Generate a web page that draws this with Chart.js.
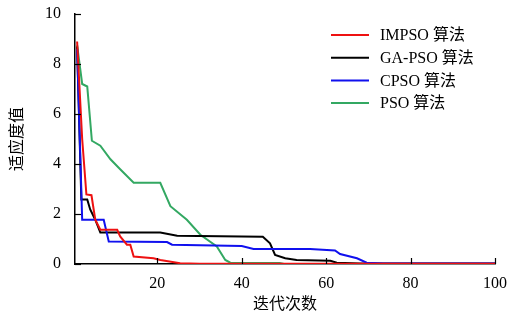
<!DOCTYPE html>
<html>
<head>
<meta charset="utf-8">
<script src="https://cdn.jsdelivr.net/npm/chart.js@4"></script>
<style>
  html, body { margin: 0; padding: 0; background: #fff; }
  #wrap { width: 507px; height: 320px; }
</style>
</head>
<body>
<div id="wrap"><canvas id="fit-chart"></canvas></div>
<script>
// series (iteration, fitness)
var impsoX = [1, 2.2, 3.2, 4.4, 5.3, 6.5, 10.5, 11.2, 12.8, 13.6, 14.4, 19.1, 20.7, 25.4, 30, 100];
var impsoY = [8.9, 5.0, 2.78, 2.75, 1.77, 1.37, 1.37, 1.1, 0.77, 0.77, 0.3, 0.23, 0.16, 0.03, 0.01, 0.01];

var gaX = [1, 2, 3.4, 4.1, 5.3, 6.5, 20.7, 24.7, 45, 46.7, 47.9, 50.3, 53, 61, 62.5, 68, 100];
var gaY = [8.7, 2.58, 2.58, 2.18, 1.77, 1.26, 1.26, 1.13, 1.09, 0.83, 0.36, 0.23, 0.16, 0.13, 0.05, 0.02, 0.02];

var cpsoX = [1, 2.2, 7.3, 8.5, 22.3, 23.5, 40, 42.8, 56.2, 62.1, 63.3, 67.3, 69.6, 73.6, 100];
var cpsoY = [8.6, 1.77, 1.77, 0.9, 0.88, 0.77, 0.72, 0.6, 0.6, 0.54, 0.4, 0.23, 0.05, 0.02, 0.02];

var psoX = [1, 2.2, 3.4, 4.5, 6.5, 8.9, 11.2, 14.4, 20.7, 23.1, 27, 30.2, 34.1, 36.1, 37.3, 49, 50, 100];
var psoY = [8.75, 7.2, 7.1, 4.93, 4.73, 4.19, 3.79, 3.25, 3.25, 2.31, 1.77, 1.17, 0.7, 0.16, 0.05, 0.04, 0.0, 0.0];

var seriesNames = ['IMPSO 算法', 'GA-PSO 算法', 'CPSO 算法', 'PSO 算法'];
var seriesColors = ['#ee1111', '#000000', '#1010ee', '#33a862'];
var xTicks = [20, 40, 60, 80, 100];
var yTicks = [0, 2, 4, 6, 8, 10];

var serif = "'Liberation Serif', 'Times New Roman', serif";
var cjk = "'Liberation Serif', 'Noto Sans CJK SC', serif";

function toPoints(xs, ys) {
    return xs.map(function (x, i) { return { x: x, y: ys[i] }; });
}

var allX = [impsoX, gaX, cpsoX, psoX];
var allY = [impsoY, gaY, cpsoY, psoY];
var drawOrder = [1, 3, 2, 4]; // lower order drawn on top

var datasets = seriesNames.map(function (name, i) {
    return {
        label: name,
        data: toPoints(allX[i], allY[i]),
        borderColor: seriesColors[i],
        borderWidth: 2,
        pointRadius: 0,
        fill: false,
        tension: 0,
        order: drawOrder[i]
    };
});

// small ticks pointing into the plot, plus the legend in the upper right
var decorPlugin = {
    id: 'decor',
    afterDraw: function (chart) {
        var ctx = chart.ctx;
        var xs = chart.scales.x, ys = chart.scales.y;
        var area = chart.chartArea;
        ctx.save();
        ctx.strokeStyle = '#000';
        ctx.lineWidth = 1.2;
        xTicks.forEach(function (v) {
            var px = Math.round(xs.getPixelForValue(v)) + 0.5;
            ctx.beginPath();
            ctx.moveTo(px, area.bottom);
            ctx.lineTo(px, area.bottom - 6);
            ctx.stroke();
        });
        yTicks.forEach(function (v) {
            var py = Math.round(ys.getPixelForValue(v)) + 0.5;
            ctx.beginPath();
            ctx.moveTo(area.left, py);
            ctx.lineTo(area.left + 6, py);
            ctx.stroke();
        });

        // legend
        ctx.font = '16px ' + cjk;
        ctx.textBaseline = 'middle';
        ctx.textAlign = 'left';
        chart.data.datasets.forEach(function (ds, i) {
            var y = 35 + i * 22.7;
            ctx.strokeStyle = ds.borderColor;
            ctx.lineWidth = 2;
            ctx.beginPath();
            ctx.moveTo(331, y);
            ctx.lineTo(369, y);
            ctx.stroke();
            ctx.fillStyle = '#000';
            ctx.fillText(ds.label, 380, y + 1);
        });
        ctx.restore();
    }
};

var ctx = document.getElementById('fit-chart').getContext('2d');
var fitChart = new Chart(ctx, {
    type: 'line',
    data: { datasets: datasets },
    options: {
        responsive: true,
        maintainAspectRatio: false,
        animation: false,
        layout: { padding: { top: 14, right: 12, left: 0, bottom: 0 } },
        plugins: {
            legend: { display: false },
            tooltip: { enabled: false }
        },
        scales: {
            x: {
                type: 'linear',
                min: 0.5,
                max: 100,
                afterBuildTicks: function (scale) {
                    scale.ticks = xTicks.map(function (v) { return { value: v }; });
                },
                afterFit: function (scale) {
                    scale.height = 56;
                    scale.paddingRight = 0;
                    scale.paddingLeft = 0;
                },
                grid: { display: false, drawTicks: false },
                border: { display: true, color: '#000', width: 1.5 },
                ticks: {
                    color: '#000',
                    padding: 10,
                    maxRotation: 0,
                    font: { family: serif, size: 16 }
                },
                title: {
                    display: true,
                    text: '迭代次数',
                    color: '#000',
                    padding: { top: 0, bottom: 6 },
                    font: { family: cjk, size: 16 }
                }
            },
            y: {
                min: 0,
                max: 10,
                afterBuildTicks: function (scale) {
                    scale.ticks = yTicks.map(function (v) { return { value: v }; });
                },
                afterFit: function (scale) {
                    scale.width = 75;
                    scale.paddingTop = 0;
                    scale.paddingBottom = 0;
                },
                grid: { display: false, drawTicks: false },
                border: { display: true, color: '#000', width: 1.5 },
                ticks: {
                    color: '#000',
                    padding: 14,
                    font: { family: serif, size: 16 }
                },
                title: {
                    display: true,
                    text: '适应度值',
                    color: '#000',
                    padding: { top: 8, bottom: 0 },
                    font: { family: cjk, size: 16 }
                }
            }
        }
    },
    plugins: [decorPlugin]
});
</script>
</body>
</html>
